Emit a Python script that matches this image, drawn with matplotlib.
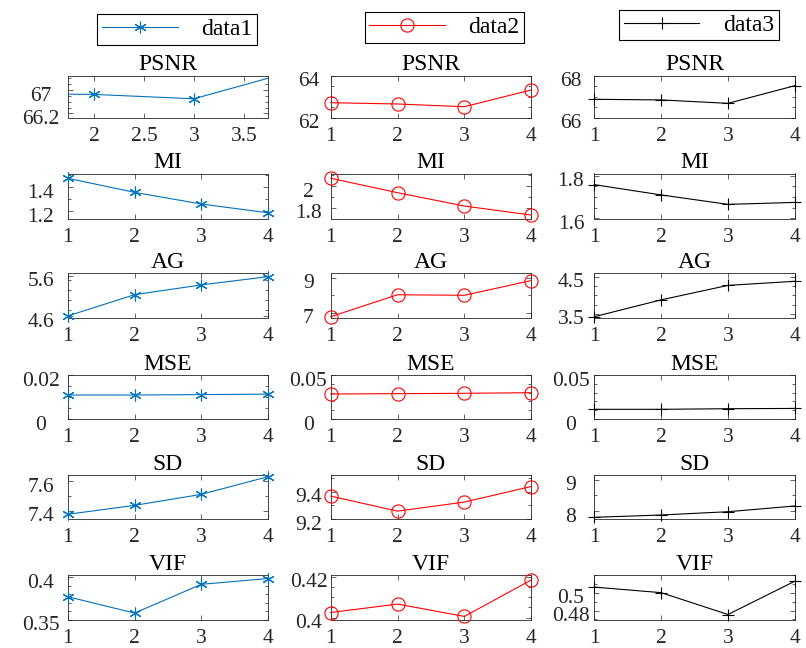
import matplotlib
matplotlib.use("Agg")
import matplotlib.pyplot as plt
from matplotlib.lines import Line2D
from matplotlib.ticker import MultipleLocator
from matplotlib.transforms import ScaledTranslation

plt.rcParams['font.family'] = ['Liberation Serif', 'DejaVu Serif']

# ---------------- data ----------------
x = [1, 2, 3, 4]
metrics = ['PSNR', 'MI', 'AG', 'MSE', 'SD', 'VIF']
series_names = ['data1', 'data2', 'data3']

data1_psnr = [66.88, 66.85, 66.70, 67.65]
data1_mi = [1.472, 1.356, 1.260, 1.188]
data1_ag = [4.607, 5.13, 5.37, 5.573]
data1_mse = [0.0109, 0.0109, 0.0111, 0.0113]
data1_sd = [7.375, 7.436, 7.511, 7.632]
data1_vif = [0.3771, 0.3578, 0.3917, 0.3985]

data2_psnr = [62.72, 62.66, 62.53, 63.32]
data2_mi = [2.074, 1.941, 1.818, 1.735]
data2_ag = [6.79, 8.03, 8.00, 8.83]
data2_mse = [0.0284, 0.0288, 0.0292, 0.0299]
data2_sd = [9.369, 9.258, 9.325, 9.44]
data2_vif = [0.4025, 0.4066, 0.4006, 0.4183]

data3_psnr = [66.88, 66.85, 66.69, 67.52]
data3_mi = [1.758, 1.710, 1.666, 1.675]
data3_ag = [3.426, 3.88, 4.27, 4.38]
data3_mse = [0.0110, 0.0110, 0.0117, 0.0120]
data3_sd = [7.81, 7.883, 7.987, 8.167]
data3_vif = [0.5066, 0.5003, 0.4755, 0.5133]

series = [
    [data1_psnr, data1_mi, data1_ag, data1_mse, data1_sd, data1_vif],
    [data2_psnr, data2_mi, data2_ag, data2_mse, data2_sd, data2_vif],
    [data3_psnr, data3_mi, data3_ag, data3_mse, data3_sd, data3_vif],
]

# y tick values / labels per column
yticks = [
    [[66.2, 67], [1.2, 1.4], [4.6, 5.6], [0, 0.02], [7.4, 7.6], [0.35, 0.4]],
    [[62, 64], [1.8, 2], [7, 9], [0, 0.05], [9.2, 9.4], [0.4, 0.42]],
    [[66, 68], [1.6, 1.8], [3.5, 4.5], [0, 0.05], [8, 9], [0.48, 0.5]],
]
yticklabels = [
    [['66.2', '67'], ['1.2', '1.4'], ['4.6', '5.6'], ['0', '0.02'], ['7.4', '7.6'], ['0.35', '0.4']],
    [['62', '64'], ['1.8', '2'], ['7', '9'], ['0', '0.05'], ['9.2', '9.4'], ['0.4', '0.42']],
    [['66', '68'], ['1.6', '1.8'], ['3.5', '4.5'], ['0', '0.05'], ['8', '9'], ['0.48', '0.5']],
]
xticks_default = [1, 2, 3, 4]
xticks_psnr1 = [2, 2.5, 3, 3.5]
xticklabels_psnr1 = ['2', '2.5', '3', '3.5']

# ---------------- axes config ----------------
ylims = [
    [(66.04, 67.5), (1.141, 1.511), (4.55, 5.65), (0, 0.02), (7.343, 7.643), (0.35, 0.4023)],
    [(62, 64), (1.703, 2.118), (6.70, 9.23), (0, 0.05), (9.2, 9.525), (0.399, 0.4206)],
    [(66, 68), (1.6, 1.81), (3.383, 4.59), (0, 0.05), (7.757, 9.145), (0.4696, 0.52)],
]
yminor = [
    [0.2, 0.1, 0.25, 0.005, 0.1, 0.01],
    [0.5, 0.1, 1.0, 0.01, 0.1, 0.005],
    [0.5, 0.05, 0.25, 0.01, 0.5, 0.01],
]
xlim_psnr1 = (1.735, 3.745)

W, H = 806, 648
col_left = [67.7, 330.7, 594.3]
col_width = 200.5
row_top = [75.5, 173.5, 273.5, 375, 475, 575.3]
row_bot = [118, 218.5, 318.3, 419, 519, 619.7]
ylab_pad = [19.5, 16.0, 16.8]

styles = [
    dict(color='#0072BD', marker=(6, 2, 0), markersize=8.5, markerfacecolor='none'),
    dict(color='#FF0000', marker='o', markersize=9.5, markerfacecolor='none'),
    dict(color='#000000', marker='+', markersize=8.5, markerfacecolor='none'),
]

axcol = '#262626'
tick_fs = 15.5
title_fs = 17

fig = plt.figure(figsize=(W / 100, H / 100), dpi=100)
ylab_shift = ScaledTranslation(0, -3.5 / 100, fig.dpi_scale_trans)

for c in range(3):
    for r in range(6):
        L = col_left[c]
        T, B = row_top[r], row_bot[r]
        ax = fig.add_axes([L / W, 1 - B / H, col_width / W, (B - T) / H])
        clip = (c == 0 and r == 0)
        ax.plot(x, series[c][r], linewidth=0.8, markeredgewidth=0.8,
                clip_on=clip, zorder=3, **styles[c])
        ax.set_ylim(*ylims[c][r])
        if c == 0 and r == 0:
            ax.set_xlim(*xlim_psnr1)
            ax.set_xticks(xticks_psnr1)
            ax.set_xticklabels(xticklabels_psnr1)
        else:
            ax.set_xlim(1, 4)
            ax.set_xticks(xticks_default)
            ax.set_xticklabels([str(v) for v in xticks_default])
        ax.set_yticks(yticks[c][r])
        ax.set_yticklabels(yticklabels[c][r])
        ax.yaxis.set_minor_locator(MultipleLocator(yminor[c][r]))
        ax.tick_params(axis='both', which='both', direction='in', top=True, right=True,
                       color=axcol, width=0.5, labelcolor=axcol, labelsize=tick_fs)
        ax.tick_params(axis='both', which='major', length=3.5)
        ax.tick_params(axis='y', which='minor', length=2.5)
        ax.tick_params(axis='x', which='major', pad=6.5)
        ax.tick_params(axis='y', which='major', pad=ylab_pad[c])
        for lab in ax.get_yticklabels():
            lab.set_horizontalalignment('center')
            lab.set_transform(lab.get_transform() + ylab_shift)
        for s in ax.spines.values():
            s.set_color(axcol)
            s.set_linewidth(0.6)
        ax.set_title(metrics[r], fontsize=title_fs, pad=2.5, color='black')

# legends
leg_centers = [(177.4, 29.2), (444.5, 27.3), (699.0, 25.0)]
for c in range(3):
    cx, cy = leg_centers[c]
    h = Line2D([], [], linewidth=0.8, markeredgewidth=0.8, **styles[c])
    leg = fig.legend(handles=[h], labels=[series_names[c]], loc='center',
                     bbox_to_anchor=(cx / W, 1 - cy / H), frameon=True, fancybox=False,
                     edgecolor='black', framealpha=1, fontsize=17,
                     handlelength=3.2, handletextpad=1.0, borderpad=0.2,
                     borderaxespad=0)
    leg.get_frame().set_linewidth(0.8)

fig.savefig('out.png', dpi=100)
